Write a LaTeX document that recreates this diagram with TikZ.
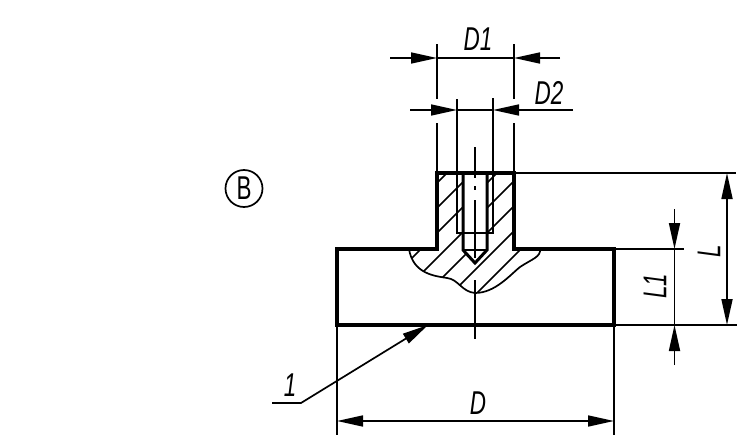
\documentclass[tikz,border=0pt]{standalone}
\usepackage{fontspec}
\newfontfamily\dimfont[FakeStretch=0.68]{Liberation Sans}
\usetikzlibrary{arrows.meta}
\tikzset{
	body/.style={line width=3.6pt,line join=miter,line cap=rect},
	hair/.style={line width=1.7pt},
	dimtip/.style={hair,-{Triangle[length=26pt,width=11pt]}},
	dimboth/.style={hair,{Triangle[length=26pt,width=11pt]}-{Triangle[length=26pt,width=11pt]}},
	dimtext/.style={inner sep=0pt,font=\dimfont\fontsize{33}{33}\selectfont\itshape},
}
\begin{document}
\begin{tikzpicture}[x=1pt,y=-1pt]
		\useasboundingbox (0,0) rectangle (750,439);

		% corners of the part
		\coordinate (sTL) at (437,173);
		\coordinate (sTR) at (514,173);
		\coordinate (sBL) at (437,249);
		\coordinate (sBR) at (514,249);
		\coordinate (fTL) at (337,249);
		\coordinate (fTR) at (614,249);
		\coordinate (fBL) at (337,325);
		\coordinate (fBR) at (614,325);

		% hatching
		\begin{scope}
			\clip (sTL) -- (sTR) -- (sBR) -- (540,249)
				.. controls (541,257) and (532,259) .. (520,267)
				.. controls (510,275) and (495,293) .. (475,293)
				.. controls (462,292) and (458,279) .. (447,278)
				.. controls (435,276) and (413,274) .. (409,249)
				-- (sBL) -- cycle;
			\foreach \c in {620,645,...,770}
				\draw[hair] (\c-300,300) -- (\c-150,150);
		\end{scope}
		\fill[white] (463,173) -- (463,250) -- (475,263) -- (487,250) -- (487,173) -- cycle;

		% break line
		\draw[hair] (540,249)
			.. controls (541,257) and (532,259) .. (520,267)
			.. controls (510,275) and (495,293) .. (475,293)
			.. controls (462,292) and (458,279) .. (447,278)
			.. controls (435,276) and (413,274) .. (409,249);

		% threaded hole
		\draw[hair] (457,173) -- (457,233);
		\draw[hair] (493,173) -- (493,233);
		\draw[line width=2.4pt] (456.3,233) -- (493.7,233);
		\draw[line width=3pt] (463,173) -- (463,250) -- (475,263) -- (487,250) -- (487,173);
		\draw[line width=2.4pt] (463,250) -- (487,250);

		% outline
		\draw[body] (sTL) -- (sTR) -- (sBR) -- (fTR) -- (fBR) -- (fBL) -- (fTL) -- (sBL) -- cycle;

		% centre line
		\draw[hair] (475,147) -- (475,178);
		\draw[hair] (475,186) -- (475,190);
		\draw[hair] (475,200) -- (475,258);
		\draw[hair] (475,280) -- (475,339);

		% extension lines
		\coordinate (d1L) at (437,58);
		\coordinate (d1R) at (514,58);
		\coordinate (d2L) at (457,110);
		\coordinate (d2R) at (493,110);
		\draw[hair] (437,44) -- (437,99);
		\draw[hair] (514,44) -- (514,99);
		\draw[hair] (437,123) -- (sTL);
		\draw[hair] (514,123) -- (sTR);
		\draw[hair] (457,99) -- (457,173);
		\draw[hair] (493,98) -- (493,173);
		\draw[hair] (sTR) -- (736,173);
		\draw[hair] (fBR) -- (737,325);
		\draw[hair] (fTR) -- (684,249);
		\draw[hair] (fBL) -- (337,435);
		\draw[hair] (fBR) -- (614,435);

		% dimensions
		\coordinate (d1O) at (390,58);
		\coordinate (d1P) at (560,58);
		\coordinate (d2O) at (410,110);
		\coordinate (d2P) at (573,110);
		\draw[dimtip] (d1O) -- (d1L);
		\draw[dimtip] (d1P) -- (d1R);
		\draw[hair] (d1L) -- (d1R);
		\draw[dimtip] (d2O) -- (d2L);
		\draw[dimtip] (d2P) -- (d2R);
		\draw[hair] (d2L) -- (d2R);

		\coordinate (l1T) at (674.5,249);
		\coordinate (l1B) at (674.5,325);
		\coordinate (l1O) at (674.5,209);
		\coordinate (l1P) at (674.5,365);
		\draw[dimtip] (l1O) -- (l1T);
		\draw[dimtip] (l1P) -- (l1B);
		\draw[hair] (l1T) -- (l1B);

		\coordinate (lT) at (727,173);
		\coordinate (lB) at (727,325);
		\draw[dimboth] (lT) -- (lB);

		\coordinate (dL) at (337,421);
		\coordinate (dR) at (614,421);
		\draw[dimboth] (dL) -- (dR);

		% labels
		\node[dimtext] (tD1) at (478,39.5) {D1};
		\node[dimtext] (tD2) at (549,92.5) {D2};
		\node[dimtext] (tD) at (478,403) {D};
		\node[dimtext,rotate=90] (tL1) at (655,286) {L1};
		\node[dimtext,rotate=90] (tL) at (709,251) {L};
		\node[dimtext] (tOne) at (290,385) {1};
		\node[draw,circle,hair,minimum size=37pt,inner sep=0pt,font=\dimfont\fontsize{33}{33}\selectfont] (tB) at (244,188.5) {B};

		% leader
		\coordinate (ldA) at (272,403);
		\coordinate (ldB) at (301,403);
		\coordinate (ldC) at (428,325);
		\draw[dimtip] (ldA) -- (ldB) -- (ldC);
	\end{tikzpicture}
\end{document}
